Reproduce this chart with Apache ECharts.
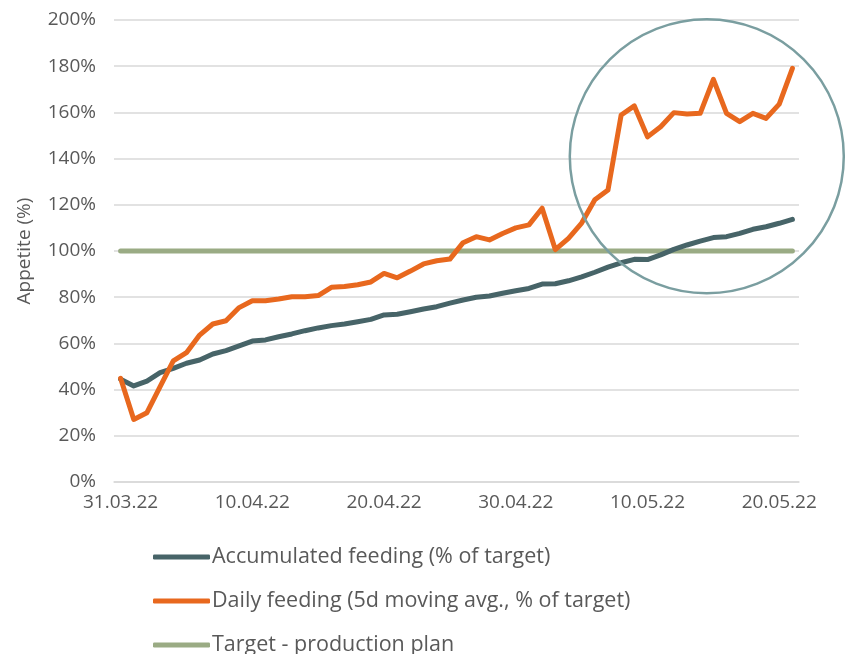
<!DOCTYPE html>
<html>
<head>
<meta charset="utf-8">
<script src="https://cdn.jsdelivr.net/npm/echarts@6/dist/echarts.min.js"></script>
<style>
  html, body { margin: 0; padding: 0; background: #fff; }
</style>
</head>
<body>
<div id="chart" style="width:846px;height:654px;"></div>
<script>
var dates = [
  '31.03.22', '01.04.22', '02.04.22', '03.04.22', '04.04.22', '05.04.22', '06.04.22', '07.04.22', '08.04.22', '09.04.22',
  '10.04.22', '11.04.22', '12.04.22', '13.04.22', '14.04.22', '15.04.22', '16.04.22', '17.04.22', '18.04.22', '19.04.22',
  '20.04.22', '21.04.22', '22.04.22', '23.04.22', '24.04.22', '25.04.22', '26.04.22', '27.04.22', '28.04.22', '29.04.22',
  '30.04.22', '01.05.22', '02.05.22', '03.05.22', '04.05.22', '05.05.22', '06.05.22', '07.05.22', '08.05.22', '09.05.22',
  '10.05.22', '11.05.22', '12.05.22', '13.05.22', '14.05.22', '15.05.22', '16.05.22', '17.05.22', '18.05.22', '19.05.22',
  '20.05.22', '21.05.22'
];

// accumulated feeding, % of target
var accumulated = [
  44.5, 41.6, 43.7, 47.3, 49.2, 51.4, 52.8, 55.4, 56.9, 58.9,
  61.0, 61.5, 62.9, 64.1, 65.5, 66.7, 67.7, 68.4, 69.4, 70.4,
  72.3, 72.6, 73.7, 74.9, 75.9, 77.4, 78.8, 80.0, 80.5, 81.7,
  82.8, 83.8, 85.7, 85.8, 87.1, 88.8, 90.8, 93.0, 94.9, 96.4,
  96.3, 98.3, 100.7, 102.6, 104.3, 105.8, 106.2, 107.6, 109.4, 110.5,
  112.0, 113.7
];

// daily feeding, 5d moving avg, % of target
var daily = [
  44.9, 27.1, 30.0, 41.3, 52.4, 56.0, 63.6, 68.4, 69.8, 75.5,
  78.5, 78.5, 79.2, 80.2, 80.2, 80.7, 84.3, 84.6, 85.4, 86.6,
  90.3, 88.4, 91.3, 94.4, 95.8, 96.5, 103.6, 106.2, 104.8, 107.6,
  110.0, 111.3, 118.5, 100.6, 105.5, 112.1, 122.2, 126.4, 158.9, 162.8,
  149.4, 153.8, 159.9, 159.3, 159.6, 174.3, 159.6, 156.0, 159.6, 157.4,
  163.6, 179.1
];

var target = dates.map(function () { return 100; });

var legendNames = [
  'Accumulated feeding (% of target)',
  'Daily feeding (5d moving avg., % of target)',
  'Target - production plan'
];

var textColor = '#595959';
var fontName = 'Open Sans';

// one legend per row so the vertical list never wraps into columns
function legendRow(name, top) {
  return {
    orient: 'vertical',
    left: 153,
    top: top,
    padding: 0,
    itemWidth: 57,
    itemHeight: 5,
    icon: 'roundRect',
    textStyle: { color: textColor, fontFamily: fontName, fontSize: 21.5, lineHeight: 24, padding: [0, 0, 0, -3] },
    data: [name]
  };
}

var chart = echarts.init(document.getElementById('chart'));

chart.setOption({
  animation: false,
  grid: { left: 114, right: 47, top: 20, bottom: 172 },
  legend: [
    legendRow(legendNames[0], 545),
    legendRow(legendNames[1], 589),
    legendRow(legendNames[2], 633)
  ],
  xAxis: {
    type: 'category',
    data: dates,
    boundaryGap: true,
    axisLine: { lineStyle: { color: '#d9d9d9', width: 1.5 } },
    axisTick: { inside: true, length: 6, interval: 9, lineStyle: { color: '#d9d9d9', width: 1.5 } },
    axisLabel: { interval: 9, margin: 11, color: textColor, fontFamily: fontName, fontSize: 19 }
  },
  yAxis: {
    type: 'value',
    min: 0,
    max: 200,
    interval: 20,
    name: 'Appetite (%)',
    nameLocation: 'middle',
    nameGap: 80,
    nameTextStyle: { color: textColor, fontFamily: fontName, fontSize: 19 },
    axisLine: { show: false },
    axisTick: { show: false },
    axisLabel: { formatter: '{value}%', margin: 18, color: textColor, fontFamily: fontName, fontSize: 19 },
    splitLine: { lineStyle: { color: '#d9d9d9', width: 1.5 } }
  },
  series: [
    {
      name: legendNames[2],
      type: 'line',
      data: target,
      symbol: 'none',
      z: 1,
      itemStyle: { color: '#9aab84' },
      lineStyle: { color: '#9aab84', width: 5, cap: 'round' }
    },
    {
      name: legendNames[0],
      type: 'line',
      data: accumulated,
      symbol: 'none',
      z: 2,
      itemStyle: { color: '#476468' },
      lineStyle: { color: '#476468', width: 5, cap: 'round', join: 'round' }
    },
    {
      name: legendNames[1],
      type: 'line',
      data: daily,
      symbol: 'none',
      z: 3,
      itemStyle: { color: '#e8681e' },
      lineStyle: { color: '#e8681e', width: 5, cap: 'round', join: 'round' }
    }
  ]
});

// highlight circle round the last weeks, placed from the axes
var p1 = chart.convertToPixel({ gridIndex: 0 }, [44, 141]);
var p2 = chart.convertToPixel({ gridIndex: 0 }, [45, 141]);
chart.setOption({
  graphic: [{
    type: 'circle',
    shape: { cx: (p1[0] + p2[0]) / 2, cy: p1[1], r: 137 },
    style: { fill: 'none', stroke: '#7a9ea0', lineWidth: 2.5 },
    z: 10
  }]
});
</script>
</body>
</html>
